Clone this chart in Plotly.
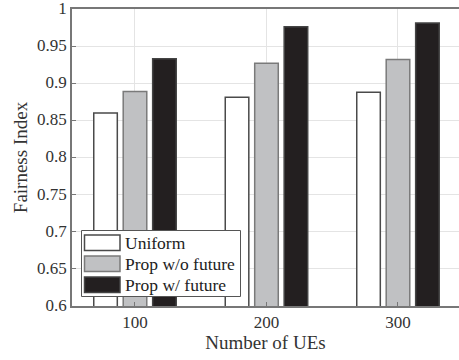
import plotly.graph_objects as go

categories = ["100", "200", "300"]
series_names = ["Uniform", "Prop w/o future", "Prop w/ future"]
uniform = [0.860, 0.881, 0.888]
prop_wo = [0.889, 0.927, 0.932]
prop_w = [0.933, 0.976, 0.981]
yticks = [0.6, 0.65, 0.7, 0.75, 0.8, 0.85, 0.9, 0.95, 1]
ytick_text = ["0.6", "0.65", "0.7", "0.75", "0.8", "0.85", "0.9", "0.95", "1"]

fills = ["white", "#c0c1c3", "#231f20"]
edges = ["#4a4a4a", "#7a7a7a", "#444444"]

xpos = [1, 2, 3]
font = "Liberation Serif"
W, H = 459, 360
ML, MR, MT, MB = 72, 0, 9, 54
PW, PH = W - ML - MR, H - MT - MB

fig = go.Figure()
for name, vals, fc, ec in zip(series_names, [uniform, prop_wo, prop_w], fills, edges):
    fig.add_trace(go.Bar(x=xpos, y=vals, name=name, hoverinfo="skip",
                         marker=dict(color=fc, line=dict(color=ec, width=1.5))))


def px_to_paper_x(px):
    return (px - ML) / PW


def px_to_paper_y(py):
    return (H - MB - py) / PH


shapes = []
annotations = []
# legend box
shapes.append(dict(type="rect", xref="paper", yref="paper",
                   x0=px_to_paper_x(81.5), x1=px_to_paper_x(240.5),
                   y0=px_to_paper_y(296.5), y1=px_to_paper_y(230.5),
                   line=dict(color="#555555", width=1), fillcolor="white", layer="above"))
sw_tops = [235, 256, 277]
for i, (name, fc, ec) in enumerate(zip(series_names, fills, edges)):
    t = sw_tops[i]
    shapes.append(dict(type="rect", xref="paper", yref="paper",
                       x0=px_to_paper_x(84.5), x1=px_to_paper_x(120),
                       y0=px_to_paper_y(t + 15.5), y1=px_to_paper_y(t),
                       line=dict(color=ec, width=1.5), fillcolor=fc, layer="above"))
    annotations.append(dict(xref="paper", yref="paper",
                            x=px_to_paper_x(123), y=px_to_paper_y(t + 8),
                            xanchor="left", yanchor="middle", showarrow=False,
                            text=name, font=dict(family=font, size=17.5, color="#222222")))

fig.update_layout(
    width=W, height=H,
    margin=dict(l=ML, r=MR, t=MT, b=MB),
    paper_bgcolor="white", plot_bgcolor="white",
    barmode="group", bargap=0.328, bargroupgap=0.2,
    font=dict(family=font, size=17, color="#333333"),
    showlegend=False,
    shapes=shapes, annotations=annotations,
    xaxis=dict(range=[0.521, 3.464], tickvals=xpos, ticktext=categories,
               showgrid=True, gridcolor="#e4e4e4", gridwidth=1,
               showline=True, linecolor="#777777", linewidth=1.5, mirror=True,
               ticks="inside", ticklen=4, tickcolor="#777777", automargin=False,
               title=dict(text="Number of UEs", font=dict(family=font, size=19, color="#333333"), standoff=4),
               tickfont=dict(family=font, size=17, color="#333333"), zeroline=False),
    yaxis=dict(range=[0.6, 1.0], tickvals=yticks, ticktext=ytick_text,
               showgrid=True, gridcolor="#e4e4e4", gridwidth=1,
               showline=True, linecolor="#777777", linewidth=1.5, mirror=True,
               ticks="inside", ticklen=4, tickcolor="#777777", automargin=False,
               ticklabeloverflow="allow", ticklabelshift=-1,
               title=dict(text="Fairness Index", font=dict(family=font, size=19, color="#333333"), standoff=4),
               tickfont=dict(family=font, size=17, color="#333333"), zeroline=False),
)

fig.write_html("out.html",
               config={"displayModeBar": False},
               post_script="document.body.style.margin='0';document.body.style.overflow='hidden';")
